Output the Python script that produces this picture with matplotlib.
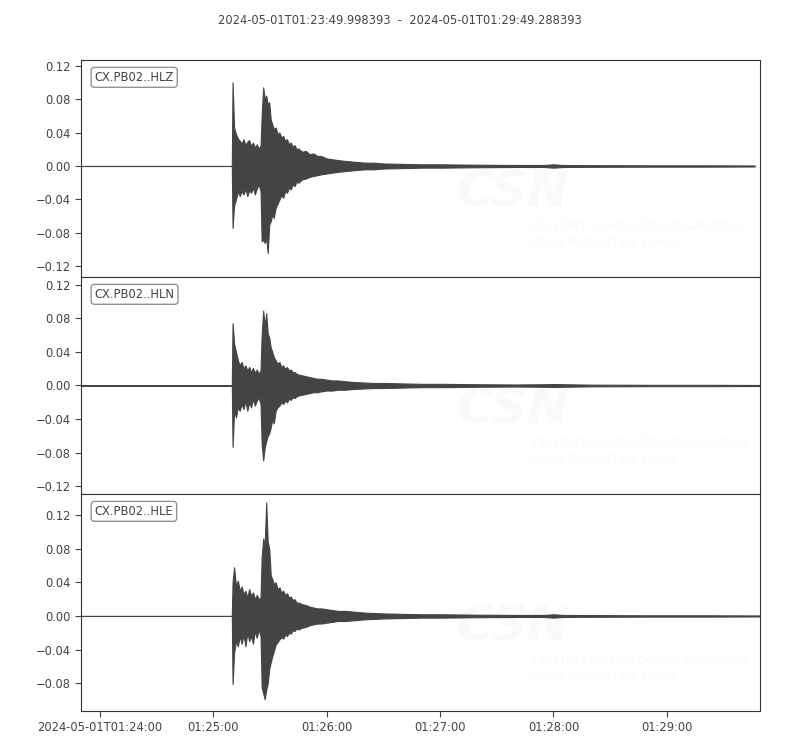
import datetime as dt
import matplotlib
matplotlib.use("Agg")
import matplotlib.pyplot as plt
import matplotlib.dates as mdates
from matplotlib.ticker import FuncFormatter

# --- data (envelope) ---
start_time = dt.datetime(2024, 5, 1, 1, 23, 49, 998393)
end_time = dt.datetime(2024, 5, 1, 1, 29, 49, 288393)
ref_time = dt.datetime(2024, 5, 1, 1, 25, 0)

channels = ["CX.PB02..HLZ", "CX.PB02..HLN", "CX.PB02..HLE"]

# seconds after 01:25:00, each trace's end is appended
t_sec = [-70, 9.8, 10.2, 11, 12, 13, 14, 15, 16, 17, 18, 19, 20, 21, 22, 23, 24, 25,
         25.6, 26.4, 27.2, 28, 28.8, 29.6, 30.4, 31.2, 32, 33, 34, 35, 36, 37, 38, 39,
         40, 41, 42, 43, 44, 45, 47, 49, 51, 53, 55, 57, 60, 63, 66, 70, 75, 80, 85, 90,
         100, 110, 120, 140, 160, 175, 180, 185, 200, 230, 260]
trace_end = [286.5, 289.3, 288.9]

z_hi = [0, 0, 0.100, 0.046, 0.038, 0.033, 0.030, 0.027, 0.032, 0.025, 0.029, 0.031, 0.024,
        0.028, 0.022, 0.026, 0.021, 0.024, 0.060, 0.094, 0.080, 0.084, 0.074, 0.076, 0.055,
        0.050, 0.044, 0.046, 0.038, 0.040, 0.034, 0.036, 0.030, 0.032, 0.026, 0.028, 0.023,
        0.025, 0.020, 0.021, 0.017, 0.018, 0.014, 0.015, 0.012, 0.012, 0.009, 0.008, 0.007,
        0.006, 0.005, 0.004, 0.004, 0.003, 0.0025, 0.002, 0.002, 0.0015, 0.0012, 0.0012,
        0.002, 0.0012, 0.001, 0.0008, 0.0008, 0.0006]
z_lo = [0, 0, -0.074, -0.047, -0.040, -0.030, -0.036, -0.030, -0.034, -0.027, -0.036, -0.029,
        -0.032, -0.026, -0.034, -0.027, -0.022, -0.030, -0.090, -0.088, -0.092, -0.086, -0.104,
        -0.070, -0.066, -0.058, -0.062, -0.050, -0.045, -0.040, -0.035, -0.038, -0.030, -0.032,
        -0.026, -0.028, -0.022, -0.024, -0.019, -0.020, -0.016, -0.015, -0.013, -0.012, -0.011,
        -0.010, -0.009, -0.008, -0.007, -0.006, -0.005, -0.004, -0.004, -0.003, -0.0025, -0.002,
        -0.002, -0.0015, -0.0012, -0.0012, -0.002, -0.0012, -0.001, -0.0008, -0.0008, -0.0006]

n_hi = [0, 0, 0.074, 0.050, 0.040, 0.030, 0.024, 0.028, 0.020, 0.024, 0.018, 0.022, 0.016,
        0.021, 0.015, 0.019, 0.014, 0.018, 0.060, 0.089, 0.070, 0.086, 0.062, 0.057, 0.045,
        0.040, 0.034, 0.030, 0.026, 0.028, 0.022, 0.024, 0.020, 0.022, 0.018, 0.019, 0.016,
        0.016, 0.014, 0.013, 0.012, 0.011, 0.010, 0.009, 0.008, 0.008, 0.007, 0.006, 0.006,
        0.005, 0.004, 0.0035, 0.003, 0.003, 0.0025, 0.002, 0.002, 0.0015, 0.0012, 0.0015,
        0.0018, 0.0015, 0.001, 0.0008, 0.0008, 0.0006]
n_lo = [0, 0, -0.073, -0.030, -0.038, -0.026, -0.030, -0.022, -0.028, -0.018, -0.030, -0.020,
        -0.026, -0.016, -0.024, -0.018, -0.014, -0.022, -0.070, -0.089, -0.074, -0.066, -0.060,
        -0.057, -0.050, -0.040, -0.045, -0.030, -0.026, -0.024, -0.020, -0.022, -0.018, -0.020,
        -0.016, -0.017, -0.014, -0.015, -0.013, -0.012, -0.011, -0.010, -0.009, -0.008, -0.008,
        -0.007, -0.006, -0.006, -0.005, -0.005, -0.004, -0.0035, -0.003, -0.003, -0.0025, -0.002,
        -0.002, -0.0015, -0.0012, -0.0015, -0.0018, -0.0015, -0.001, -0.0008, -0.0008, -0.0006]

e_hi = [0, 0, 0.040, 0.058, 0.036, 0.042, 0.030, 0.035, 0.026, 0.030, 0.022, 0.032, 0.024,
        0.028, 0.020, 0.025, 0.020, 0.022, 0.070, 0.092, 0.084, 0.135, 0.088, 0.080, 0.048,
        0.044, 0.038, 0.040, 0.032, 0.034, 0.028, 0.030, 0.025, 0.027, 0.022, 0.023, 0.019,
        0.020, 0.016, 0.016, 0.014, 0.013, 0.011, 0.010, 0.009, 0.009, 0.008, 0.007, 0.006,
        0.006, 0.005, 0.004, 0.0035, 0.003, 0.0025, 0.002, 0.002, 0.0015, 0.0012, 0.0012,
        0.002, 0.0012, 0.001, 0.0008, 0.0008, 0.0006]
e_lo = [0, 0, -0.081, -0.044, -0.030, -0.036, -0.024, -0.033, -0.022, -0.036, -0.020, -0.030,
        -0.024, -0.033, -0.018, -0.026, -0.016, -0.024, -0.085, -0.092, -0.099, -0.088, -0.080,
        -0.063, -0.055, -0.048, -0.042, -0.034, -0.031, -0.028, -0.025, -0.027, -0.022, -0.024,
        -0.020, -0.021, -0.017, -0.018, -0.015, -0.016, -0.014, -0.013, -0.011, -0.010, -0.009,
        -0.009, -0.008, -0.007, -0.006, -0.006, -0.005, -0.004, -0.0035, -0.003, -0.0025, -0.002,
        -0.002, -0.0015, -0.0012, -0.0012, -0.002, -0.0012, -0.001, -0.0008, -0.0008, -0.0006]

uppers = [z_hi, n_hi, e_hi]
lowers = [z_lo, n_lo, e_lo]
ylims = [(-0.1326, 0.1266), (-0.129, 0.129), (-0.113, 0.145)]
yticks = [[-0.12, -0.08, -0.04, 0.0, 0.04, 0.08, 0.12],
          [-0.12, -0.08, -0.04, 0.0, 0.04, 0.08, 0.12],
          [-0.08, -0.04, 0.0, 0.04, 0.08, 0.12]]

tick_minutes = [24, 25, 26, 27, 28, 29]

trace_color = "#444444"
text_color = "#444444"
wm_color = "#f9f9f9"


def fmt_y(v, pos):
    s = f"{v:.2f}"
    if s == "-0.00":
        s = "0.00"
    return s.replace("-", "\u2212")


def fmt_x(v, pos):
    d = mdates.num2date(v)
    if pos == 0:
        return d.strftime("%Y-%m-%dT%H:%M:%S")
    return d.strftime("%H:%M:%S")


fig = plt.figure(figsize=(8, 7.5), dpi=100)
left, width = 81 / 800, 679 / 800
panel_h = 217 / 750
top = 1 - 60 / 750

axes = []
for i in range(3):
    bottom = top - (i + 1) * panel_h
    ax = fig.add_axes([left, bottom, width, panel_h], sharex=axes[0] if axes else None)
    axes.append(ax)

    secs = t_sec + [trace_end[i]]
    times = [ref_time + dt.timedelta(seconds=s) for s in secs]
    times[0] = start_time

    # faint CSN watermark
    ax.text(0.552, 0.323, "CSN", transform=ax.transAxes, fontsize=36, color=wm_color,
            fontweight="bold", style="italic", zorder=0, clip_on=True)
    ax.text(0.664, 0.217, "CENTRO SISMOLÓGICO NACIONAL", transform=ax.transAxes,
            fontsize=9.2, color=wm_color, style="italic", zorder=0, clip_on=True)
    ax.text(0.658, 0.143, "UNIVERSIDAD DE CHILE", transform=ax.transAxes,
            fontsize=9.2, color=wm_color, style="italic", zorder=0, clip_on=True)

    ax.fill_between(times, lowers[i], uppers[i], facecolor=trace_color,
                    edgecolor=trace_color, linewidth=0.8, zorder=2)

    ax.set_ylim(*ylims[i])
    ax.set_yticks(yticks[i])
    ax.yaxis.set_major_formatter(FuncFormatter(fmt_y))
    ax.tick_params(axis="y", labelsize=8.3, colors=text_color, length=4)
    for sp in ax.spines.values():
        sp.set_color("#333333")

    ax.text(0.02, 0.95, channels[i], transform=ax.transAxes, va="top", ha="left",
            fontsize=8.3, color=text_color,
            bbox=dict(boxstyle="round", fc="w", ec="#777777", alpha=0.8))

    if i < 2:
        ax.tick_params(axis="x", bottom=False, labelbottom=False)

ax = axes[-1]
ax.set_xlim(start_time, end_time)
ax.set_xticks([dt.datetime(2024, 5, 1, 1, m, 0) for m in tick_minutes])
ax.xaxis.set_major_formatter(FuncFormatter(fmt_x))
ax.tick_params(axis="x", labelsize=8.3, colors=text_color, length=4)

fig.suptitle(start_time.isoformat() + "  -  " + end_time.isoformat(),
             x=0.5, y=1 - 20 / 750, va="center", fontsize=8.3, color=text_color)

fig.savefig("out.png", dpi=100)
